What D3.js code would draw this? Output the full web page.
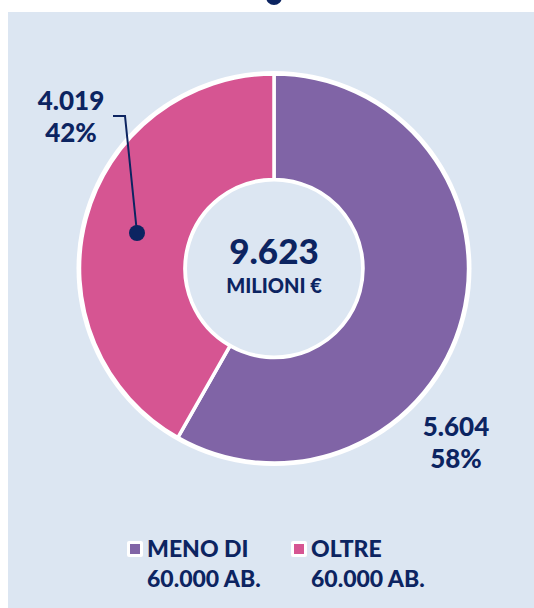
<!DOCTYPE html>
<html>
<head>
<meta charset="utf-8">
<script src="https://cdn.jsdelivr.net/npm/d3@7"></script>
<style>
html,body{margin:0;padding:0;background:#fff;}
svg{display:block;}
text{font-family:"Lato","Noto Sans",sans-serif;font-weight:900;fill:#0c2461;}
</style>
</head>
<body>
<svg id="chart" width="534" height="608"></svg>
<script>
const categories = ["MENO DI|60.000 AB.", "OLTRE|60.000 AB."];
const values = [5.604, 4.019];
const percents = ["58%", "42%"];
const valueLabels = ["5.604", "4.019"];
const colors = ["#8064a6", "#d65592"];
const totalLabel = "9.623";
const unitLabel = "MILIONI €";

const svg = d3.select("#chart");
const navy = "#0c2461";

// panel
svg.append("rect").attr("x", 8).attr("y", 12).attr("width", 526).attr("height", 596).attr("fill", "#dce6f2");
// top dot (cut off)
svg.append("circle").attr("cx", 274).attr("cy", -3).attr("r", 8).attr("fill", navy);

const cx = 274, cy = 268.5, R = 194.5, r = 89;
const g = svg.append("g").attr("transform", `translate(${cx},${cy})`);

const pie = d3.pie().sort(null).value(d => d);
const arcs = pie(values);
const arc = d3.arc().innerRadius(r).outerRadius(R);

// white ring behind
g.append("circle").attr("r", R + 3).attr("fill", "#fff");
g.selectAll("path.slice").data(arcs).join("path")
  .attr("class", "slice")
  .attr("d", arc)
  .attr("fill", (d, i) => colors[i])
  .attr("stroke", "#fff").attr("stroke-width", 3.5);
g.append("circle").attr("r", r - 2).attr("fill", "#dce6f2");

// centre text
g.append("text").attr("text-anchor", "middle").attr("y", -5)
  .style("font-size", "35px").text(totalLabel);
g.append("text").attr("text-anchor", "middle").attr("y", 24)
  .style("font-size", "20px").text(unitLabel);

// label for purple (right bottom)
const lab1 = svg.append("text").attr("text-anchor", "middle").style("font-size", "26px");
lab1.append("tspan").attr("x", 456).attr("y", 436).text(valueLabels[0]);
lab1.append("tspan").attr("x", 456).attr("y", 468).text(percents[0]);

// label for pink (top left) with leader
const lab2 = svg.append("text").attr("text-anchor", "middle").style("font-size", "26px");
lab2.append("tspan").attr("x", 71).attr("y", 110).text(valueLabels[1]);
lab2.append("tspan").attr("x", 71).attr("y", 142).text(percents[1]);

svg.append("path").attr("d", "M113,116 L125,116 L137,233")
  .attr("fill", "none").attr("stroke", navy).attr("stroke-width", 2);
svg.append("circle").attr("cx", 137).attr("cy", 233).attr("r", 8).attr("fill", navy);

// legend
const legX = [127, 291];
categories.forEach((c, i) => {
  const lg = svg.append("g").attr("transform", `translate(${legX[i]},541)`);
  lg.append("rect").attr("width", 16).attr("height", 16).attr("rx", 2).attr("fill", "#fff");
  lg.append("rect").attr("x", 3).attr("y", 3).attr("width", 10).attr("height", 10).attr("fill", colors[i]);
  const parts = c.split("|");
  const t = lg.append("text").style("font-size", "23px");
  t.append("tspan").attr("x", 20).attr("y", 16).text(parts[0]);
  t.append("tspan").attr("x", 20).attr("y", 46).text(parts[1]);
});
</script>
</body>
</html>
